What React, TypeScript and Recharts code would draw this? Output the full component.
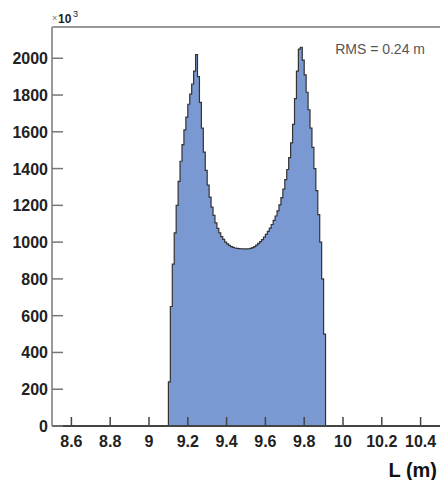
import { ComposedChart, Area, XAxis, YAxis, ReferenceLine } from 'recharts'

// histogram bins (lower edge, m), bin width 0.01 m
const binStart = [
  9.10, 9.11, 9.12, 9.13, 9.14, 9.15, 9.16, 9.17, 9.18, 9.19,
  9.20, 9.21, 9.22, 9.23, 9.24, 9.25, 9.26, 9.27, 9.28, 9.29,
  9.30, 9.31, 9.32, 9.33, 9.34, 9.35, 9.36, 9.37, 9.38, 9.39,
  9.40, 9.41, 9.42, 9.43, 9.44, 9.45, 9.46, 9.47, 9.48, 9.49,
  9.50, 9.51, 9.52, 9.53, 9.54, 9.55, 9.56, 9.57, 9.58, 9.59,
  9.60, 9.61, 9.62, 9.63, 9.64, 9.65, 9.66, 9.67, 9.68, 9.69,
  9.70, 9.71, 9.72, 9.73, 9.74, 9.75, 9.76, 9.77, 9.78, 9.79,
  9.80, 9.81, 9.82, 9.83, 9.84, 9.85, 9.86, 9.87, 9.88, 9.89,
  9.90,
]
const binEnd = 9.91

// entries per bin, x10^3
const counts = [
  240, 650, 880, 1050, 1200, 1330, 1440, 1530, 1610, 1680,
  1750, 1805, 1860, 1930, 2020, 1900, 1760, 1620, 1490, 1390,
  1310, 1245, 1190, 1145, 1105, 1075, 1050, 1030, 1015, 1000,
  990, 982, 976, 972, 968, 966, 965, 964, 963, 963,
  963, 964, 966, 970, 976, 984, 993, 1003, 1014, 1027,
  1042, 1058, 1076, 1096, 1118, 1142, 1170, 1203, 1242, 1288,
  1340, 1395, 1460, 1540, 1640, 1780, 1930, 2050, 2060, 1990,
  1910, 1815, 1720, 1620, 1515, 1400, 1280, 1150, 1000, 800,
  500,
]

const xTicks = [8.6, 8.8, 9, 9.2, 9.4, 9.6, 9.8, 10, 10.2, 10.4]
const yTicks = [0, 200, 400, 600, 800, 1000, 1200, 1400, 1600, 1800, 2000]
const xRange: [number, number] = [8.5, 10.5]
const yRange: [number, number] = [0, 2170]

const data = [
  { L: binStart[0], n: 0 },
  ...binStart.map((L, i) => ({ L, n: counts[i] })),
  { L: binEnd, n: 0 },
]

const font = '"Liberation Sans", Arial, sans-serif'

function XTick({ x, y, payload }: any) {
  return (
    <g>
      <line x1={x} y1={y} x2={x} y2={y - 9} stroke="#444" strokeWidth={1.5} />
      <text x={x} y={y + 21} textAnchor="middle" fontFamily={font} fontWeight="bold" fontSize={16} fill="#222">
        {String(Number(payload.value.toFixed(1)))}
      </text>
    </g>
  )
}

function YTick({ x, y, payload }: any) {
  return (
    <g>
      <line x1={x} y1={y} x2={x + 11} y2={y} stroke="#777" strokeWidth={1.5} />
      <text x={x - 4} y={y + 6} textAnchor="end" fontFamily={font} fontWeight="bold" fontSize={16} fill="#222">
        {payload.value}
      </text>
    </g>
  )
}

export default function App() {
  return (
    <div style={{ position: 'absolute', left: 0, top: 0, width: 440, height: 480, background: '#fff' }}>
      <ComposedChart width={440} height={480} data={data} margin={{ top: 27, right: 0, bottom: 0, left: 0 }}>
        <XAxis dataKey="L" type="number" domain={xRange} ticks={xTicks} tick={<XTick />}
          tickSize={0} tickMargin={0} height={54} interval={0} allowDataOverflow
          axisLine={{ stroke: '#444', strokeWidth: 2 }} />
        <YAxis type="number" domain={yRange} ticks={yTicks} tick={<YTick />}
          tickSize={0} tickMargin={0} width={52} interval={0} allowDataOverflow
          axisLine={{ stroke: '#999', strokeWidth: 2 }} />
        <ReferenceLine y={yRange[1]} stroke="#999" strokeWidth={2} />
        <Area dataKey="n" type="stepAfter" fill="#7a98d2" fillOpacity={1}
          stroke="#333" strokeWidth={1.2} isAnimationActive={false} dot={false} activeDot={false} />
        <text x={52} y={21} fontFamily={font} fontSize={9} fill="#777">×</text>
        <text x={58} y={23} fontFamily={font} fontWeight="bold" fontSize={12} fill="#222">10</text>
        <text x={73} y={17} fontFamily={font} fontSize={9} fill="#222">3</text>
        <text x={425} y={54} textAnchor="end" fontFamily={font} fontSize={14} fill="#555">RMS = 0.24 m</text>
        <text x={437} y={477} textAnchor="end" fontFamily={font} fontWeight="bold" fontSize={20} fill="#111">L (m)</text>
      </ComposedChart>
    </div>
  )
}
